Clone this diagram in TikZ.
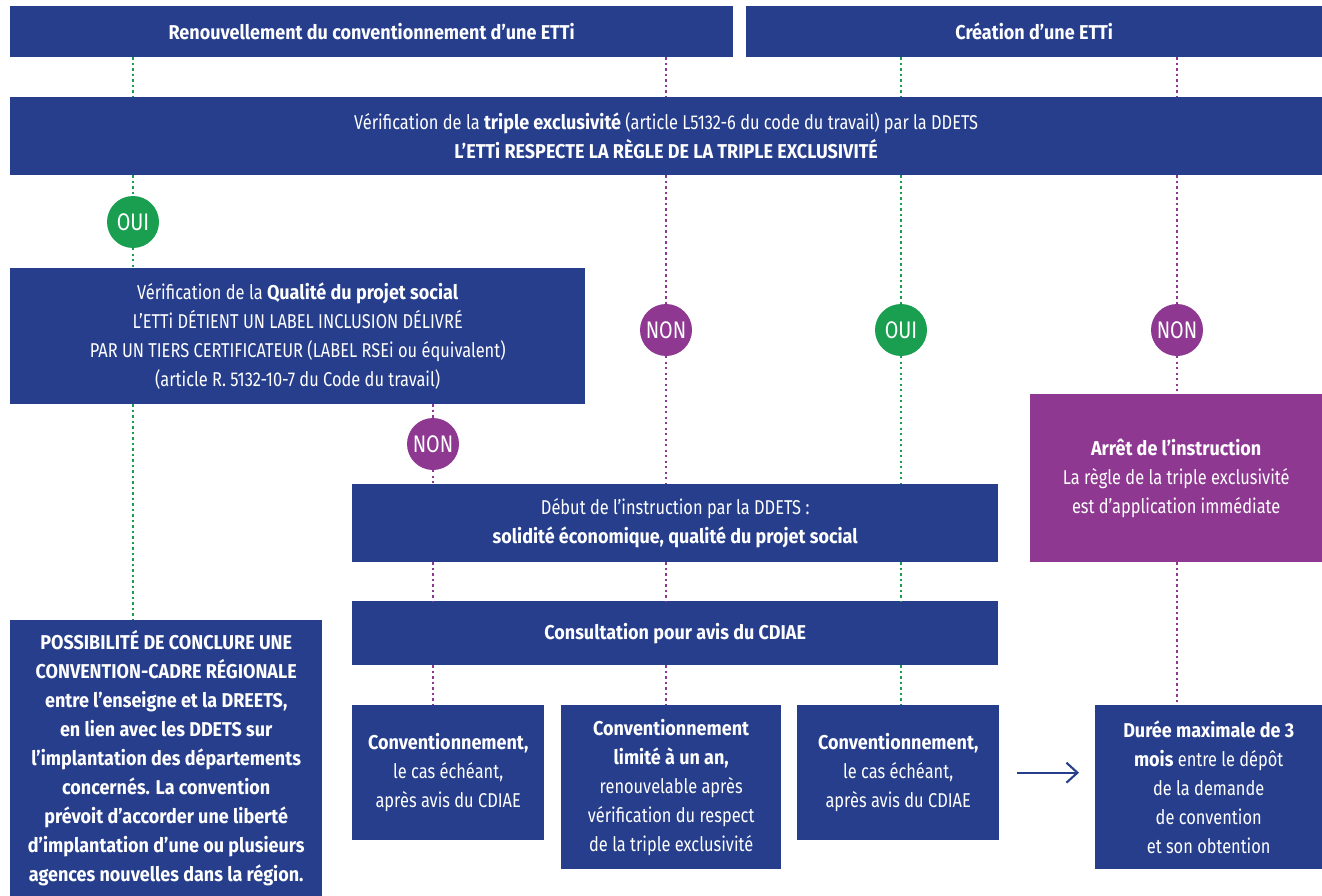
\documentclass[tikz,border=0pt]{standalone}
\usepackage{fontspec}
\setmainfont[FakeStretch=0.82,BoldFeatures={FakeStretch=0.9}]{Fira Sans}
\usetikzlibrary{arrows.meta}
\definecolor{cblue}{RGB}{38,62,140}
\definecolor{cpurp}{RGB}{142,56,145}
\definecolor{cgreen}{RGB}{26,158,80}
\tikzset{
 box/.style={fill=cblue, text=white, align=center, anchor=north west, inner sep=0pt, font=\fontsize{20}{29}\selectfont},
 pbox/.style={box, fill=cpurp},
 oui/.style={circle, fill=cgreen, text=white, minimum size=52pt, inner sep=0pt, font=\fontsize{24}{26}\selectfont},
 non/.style={oui, fill=cpurp},
 gline/.style={draw=cgreen, line width=2.3pt, dash pattern=on 2.2pt off 3.3pt},
 pline/.style={gline, draw=cpurp},
 arr/.style={draw=cblue, line width=2.1pt, -{Straight Barb[length=11pt,width=20pt]}},
}
\begin{document}
\begin{tikzpicture}[x=1pt,y=-1pt]
\useasboundingbox (0,0) rectangle (1322,896);
\node[box, minimum width=723pt, minimum height=51pt] (h1) at (10,6) {\textbf{Renouvellement du conventionnement d’une ETTi}};
\node[box, minimum width=576pt, minimum height=51pt] (h2) at (746,6) {\textbf{Création d’une ETTi}};
\node[box, minimum width=1312pt, minimum height=78pt] (big) at (10,97) {Vérification de la \textbf{triple exclusivité} (article L5132-6 du code du travail) par la DDETS\\ \textbf{L’ETTi RESPECTE LA RÈGLE DE LA TRIPLE EXCLUSIVITÉ}};
\node[box, minimum width=575pt, minimum height=136pt] (qual) at (10,268) {Vérification de la \textbf{Qualité du projet social}\\ L’ETTi DÉTIENT UN LABEL INCLUSION DÉLIVRÉ\\ PAR UN TIERS CERTIFICATEUR (LABEL RSEi ou équivalent)\\ (article R. 5132-10-7 du Code du travail)};
\node[box, minimum width=646pt, minimum height=78pt] (debut) at (352,484) {Début de l’instruction par la DDETS :\\ \textbf{solidité économique, qualité du projet social}};
\node[box, minimum width=646pt, minimum height=64pt] (consult) at (352,601) {\textbf{Consultation pour avis du CDIAE}};
\node[pbox, minimum width=292pt, minimum height=168pt] (arret) at (1030,394) {\textbf{Arrêt de l’instruction}\\ La règle de la triple exclusivité\\ est d’application immédiate};
\node[box, minimum width=312pt, minimum height=276pt] (bl) at (10,620) {\textbf{POSSIBILITÉ DE CONCLURE UNE}\\ \textbf{CONVENTION-CADRE RÉGIONALE}\\ \textbf{entre l’enseigne et la DREETS,}\\ \textbf{en lien avec les DDETS sur}\\ \textbf{l’implantation des départements}\\ \textbf{concernés. La convention}\\ \textbf{prévoit d’accorder une liberté}\\ \textbf{d’implantation d’une ou plusieurs}\\ \textbf{agences nouvelles dans la région.}};
\node[box, minimum width=192pt, minimum height=135pt] (b1) at (352,705) {\textbf{Conventionnement,}\\ le cas échéant,\\ après avis du CDIAE};
\node[box, minimum width=220pt, minimum height=164pt] (b2) at (561,705) {\textbf{Conventionnement}\\ \textbf{limité à un an,}\\ renouvelable après\\ vérification du respect\\ de la triple exclusivité};
\node[box, minimum width=202pt, minimum height=135pt] (b3) at (797,705) {\textbf{Conventionnement,}\\ le cas échéant,\\ après avis du CDIAE};
\node[box, minimum width=227pt, minimum height=164pt] (b4) at (1095,705) {\textbf{Durée maximale de 3}\\ \textbf{mois} entre le dépôt\\ de la demande\\ de convention\\ et son obtention};
\node[oui] (oui1) at (133,222) {OUI};
\node[non] (non1) at (666,330) {NON};
\node[oui] (oui2) at (901,330) {OUI};
\node[non] (non2) at (1177,330) {NON};
\node[non] (non3) at (433,444) {NON};
% green line x=133
\draw[gline] (h1.south -| oui1) -- (big.north -| oui1);
\draw[gline] (big.south -| oui1) -- (oui1.north);
\draw[gline] (oui1.south) -- (qual.north -| oui1);
\draw[gline] (qual.south -| oui1) -- (bl.north -| oui1);
% purple line x=666
\draw[pline] (h1.south -| non1) -- (big.north -| non1);
\draw[pline] (big.south -| non1) -- (non1.north);
\draw[pline] (non1.south) -- (debut.north -| non1);
\draw[pline] (debut.south -| non1) -- (consult.north -| non1);
\draw[pline] (consult.south -| non1) -- (b2.north -| non1);
% green line x=901
\draw[gline] (h2.south -| oui2) -- (big.north -| oui2);
\draw[gline] (big.south -| oui2) -- (oui2.north);
\draw[gline] (oui2.south) -- (debut.north -| oui2);
\draw[gline] (debut.south -| oui2) -- (consult.north -| oui2);
\draw[gline] (consult.south -| oui2) -- (b3.north -| oui2);
% purple line x=1177
\draw[pline] (h2.south -| non2) -- (big.north -| non2);
\draw[pline] (big.south -| non2) -- (non2.north);
\draw[pline] (non2.south) -- (arret.north -| non2);
\draw[pline] (arret.south -| non2) -- (b4.north -| non2);
% purple line x=433
\draw[pline] (qual.south -| non3) -- (non3.north);
\draw[pline] (non3.south) -- (debut.north -| non3);
\draw[pline] (debut.south -| non3) -- (consult.north -| non3);
\draw[pline] (consult.south -| non3) -- (b1.north -| non3);
% arrow
\draw[arr, shorten <=18pt, shorten >=16pt] (b3.east) -- (b3.east -| b4.west);
\end{tikzpicture}
\end{document}
